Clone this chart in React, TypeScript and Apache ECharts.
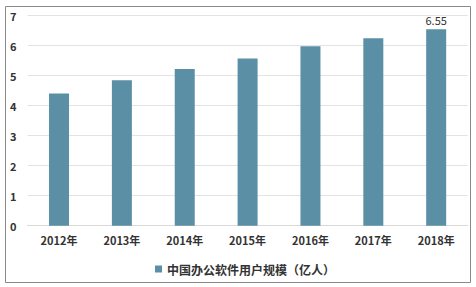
import React, { useEffect, useRef } from "react";
import * as echarts from "echarts";

const categories = ["2012年", "2013年", "2014年", "2015年", "2016年", "2017年", "2018年"];
const values = [4.41, 4.85, 5.22, 5.57, 5.98, 6.25, 6.55];
const seriesName = "中国办公软件用户规模（亿人）";
const labeledIndex = 6;

export default function App() {
  const ref = useRef<HTMLDivElement>(null);
  useEffect(() => {
    document.body.style.margin = "0";
    const chart = echarts.init(ref.current!, null, { renderer: "svg" });
    const font = "'Noto Sans CJK SC', 'Noto Sans', sans-serif";
    chart.setOption({
      animation: false,
      backgroundColor: "#ffffff",
      graphic: [
        {
          type: "rect",
          shape: { x: 5.5, y: 6.5, width: 465, height: 276 },
          style: { fill: "none", stroke: "#8a8a8a", lineWidth: 1 },
          silent: true,
        },
      ],
      grid: { left: 27.6, right: 8.4, top: 15.7, bottom: 61.3, containLabel: false },
      legend: {
        data: [seriesName],
        bottom: 7,
        left: 150,
        itemWidth: 7,
        itemHeight: 7,
        itemGap: 4,
        icon: "rect",
        textStyle: { fontFamily: font, fontSize: 12, fontWeight: "bold", color: "#333" },
      },
      xAxis: {
        type: "category",
        data: categories,
        axisLine: { lineStyle: { color: "#d9d9d9" } },
        axisTick: { show: false },
        axisLabel: { fontFamily: font, fontSize: 11, fontWeight: "bold", color: "#333", margin: 9 },
      },
      yAxis: {
        type: "value",
        min: 0,
        max: 7,
        interval: 1,
        axisLine: { show: false },
        axisTick: { show: false },
        splitLine: { lineStyle: { color: "#e3e3e3" } },
        axisLabel: { fontFamily: font, fontSize: 11, fontWeight: "bold", color: "#333", margin: 11 },
      },
      series: [
        {
          name: seriesName,
          type: "bar",
          data: values.map((v, i) => ({
            value: v,
            label: {
              show: i === labeledIndex,
              position: "top",
              distance: 4,
              fontFamily: font,
              fontSize: 11,
              color: "#333",
            },
          })),
          barWidth: 20,
          itemStyle: { color: "#5b8fa6" },
        },
      ],
    });
    return () => chart.dispose();
  }, []);
  return <div ref={ref} style={{ position: "absolute", left: 0, top: 0, width: 476, height: 287 }} />;
}
